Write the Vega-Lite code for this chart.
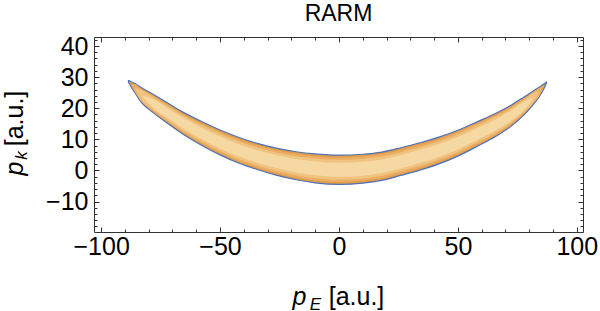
{
  "$schema": "https://vega.github.io/schema/vega-lite/v6.json",
  "width": 489,
  "height": 195,
  "autosize": "none",
  "padding": {"left": 94, "top": 37, "right": 17, "bottom": 79},
  "background": "white",
  "title": {"text": "RARM", "font": "Liberation Sans", "fontSize": 23, "fontWeight": "normal", "color": "#000", "anchor": "middle", "offset": 8},
  "config": {
    "view": {"stroke": null},
    "axis": {"grid": false, "labelFont": "Liberation Sans", "labelFontSize": 25, "labelColor": "#000", "tickColor": "#333", "domainColor": "#333", "titleFont": "Liberation Sans", "titleFontSize": 25, "titleFontWeight": "normal", "titleColor": "#000"}
  },
  "datasets": {
    "l1": [
      {"x": -88.5, "hi": 28.9, "lo": 28.3}, {"x": -87.5, "hi": 28.6, "lo": 27.0}, {"x": -86, "hi": 28.0, "lo": 25.2}, {"x": -83, "hi": 26.6, "lo": 21.8},
      {"x": -78, "hi": 24.4, "lo": 18.5}, {"x": -72, "hi": 21.7, "lo": 15.1}, {"x": -66, "hi": 18.9, "lo": 11.9}, {"x": -58, "hi": 15.8, "lo": 8.2},
      {"x": -50, "hi": 13.0, "lo": 5.0}, {"x": -42, "hi": 10.6, "lo": 2.3}, {"x": -34, "hi": 8.6, "lo": 0.2}, {"x": -26, "hi": 7.1, "lo": -1.6},
      {"x": -18, "hi": 6.0, "lo": -3.0}, {"x": -10, "hi": 5.3, "lo": -4.0}, {"x": 0, "hi": 4.9, "lo": -4.5}, {"x": 10, "hi": 5.2, "lo": -4.1},
      {"x": 18, "hi": 5.9, "lo": -3.2}, {"x": 26, "hi": 7.3, "lo": -1.6}, {"x": 34, "hi": 8.9, "lo": 0.1}, {"x": 42, "hi": 10.7, "lo": 2.1},
      {"x": 50, "hi": 12.9, "lo": 4.6}, {"x": 58, "hi": 15.6, "lo": 7.7}, {"x": 66, "hi": 18.4, "lo": 11.0}, {"x": 72, "hi": 20.8, "lo": 14.0},
      {"x": 78, "hi": 23.7, "lo": 18.0}, {"x": 82, "hi": 25.7, "lo": 21.5}, {"x": 84.5, "hi": 26.9, "lo": 24.0}, {"x": 86.3, "hi": 27.9, "lo": 26.5},
      {"x": 87.2, "hi": 28.4, "lo": 28.0}
    ],
    "l2": [
      {"x": -87.5, "hi": 27.8, "lo": 27.8}, {"x": -86, "hi": 27.78, "lo": 25.42}, {"x": -83, "hi": 26.22, "lo": 22.18}, {"x": -78, "hi": 23.93, "lo": 18.97},
      {"x": -72, "hi": 21.17, "lo": 15.63}, {"x": -66, "hi": 18.34, "lo": 12.46}, {"x": -58, "hi": 15.19, "lo": 8.81}, {"x": -50, "hi": 12.36, "lo": 5.64},
      {"x": -42, "hi": 9.94, "lo": 2.96}, {"x": -34, "hi": 7.93, "lo": 0.87}, {"x": -26, "hi": 6.4, "lo": -0.9}, {"x": -18, "hi": 5.28, "lo": -2.28},
      {"x": -10, "hi": 4.56, "lo": -3.26}, {"x": 0, "hi": 4.15, "lo": -3.75}, {"x": 10, "hi": 4.46, "lo": -3.36}, {"x": 18, "hi": 5.17, "lo": -2.47},
      {"x": 26, "hi": 6.59, "lo": -0.89}, {"x": 34, "hi": 8.2, "lo": 0.8}, {"x": 42, "hi": 10.01, "lo": 2.79}, {"x": 50, "hi": 12.24, "lo": 5.26},
      {"x": 58, "hi": 14.97, "lo": 8.33}, {"x": 66, "hi": 17.81, "lo": 11.59}, {"x": 72, "hi": 20.26, "lo": 14.54}, {"x": 78, "hi": 23.24, "lo": 18.46},
      {"x": 82, "hi": 25.36, "lo": 21.84}, {"x": 84.5, "hi": 26.67, "lo": 24.23}, {"x": 86.3, "hi": 27.2, "lo": 27.2}
    ],
    "l3": [
      {"x": -86, "hi": 26.6, "lo": 26.6}, {"x": -83, "hi": 25.83, "lo": 22.57}, {"x": -78, "hi": 23.46, "lo": 19.44}, {"x": -72, "hi": 20.64, "lo": 16.16},
      {"x": -66, "hi": 17.78, "lo": 13.02}, {"x": -58, "hi": 14.58, "lo": 9.42}, {"x": -50, "hi": 11.72, "lo": 6.28}, {"x": -42, "hi": 9.27, "lo": 3.63},
      {"x": -34, "hi": 7.26, "lo": 1.54}, {"x": -26, "hi": 5.71, "lo": -0.21}, {"x": -18, "hi": 4.56, "lo": -1.56}, {"x": -10, "hi": 3.81, "lo": -2.51},
      {"x": 0, "hi": 3.4, "lo": -3.0}, {"x": 10, "hi": 3.71, "lo": -2.61}, {"x": 18, "hi": 4.44, "lo": -1.74}, {"x": 26, "hi": 5.88, "lo": -0.18},
      {"x": 34, "hi": 7.49, "lo": 1.51}, {"x": 42, "hi": 9.32, "lo": 3.48}, {"x": 50, "hi": 11.57, "lo": 5.93}, {"x": 58, "hi": 14.34, "lo": 8.96},
      {"x": 66, "hi": 17.22, "lo": 12.18}, {"x": 72, "hi": 19.71, "lo": 15.09}, {"x": 78, "hi": 22.79, "lo": 18.91}, {"x": 82, "hi": 25.03, "lo": 22.17},
      {"x": 84.5, "hi": 25.45, "lo": 25.45}
    ],
    "l4": [
      {"x": -83, "hi": 24.2, "lo": 24.2}, {"x": -78, "hi": 22.87, "lo": 20.03}, {"x": -72, "hi": 19.98, "lo": 16.82}, {"x": -66, "hi": 17.08, "lo": 13.72},
      {"x": -58, "hi": 13.82, "lo": 10.18}, {"x": -50, "hi": 10.92, "lo": 7.08}, {"x": -42, "hi": 8.44, "lo": 4.46}, {"x": -34, "hi": 6.42, "lo": 2.38},
      {"x": -26, "hi": 4.84, "lo": 0.66}, {"x": -18, "hi": 3.66, "lo": -0.66}, {"x": -10, "hi": 2.88, "lo": -1.58}, {"x": 0, "hi": 2.46, "lo": -2.06},
      {"x": 10, "hi": 2.78, "lo": -1.68}, {"x": 18, "hi": 3.53, "lo": -0.83}, {"x": 26, "hi": 4.99, "lo": 0.71}, {"x": 34, "hi": 6.61, "lo": 2.39},
      {"x": 42, "hi": 8.46, "lo": 4.34}, {"x": 50, "hi": 10.74, "lo": 6.76}, {"x": 58, "hi": 13.55, "lo": 9.75}, {"x": 66, "hi": 16.48, "lo": 12.92},
      {"x": 72, "hi": 19.03, "lo": 15.77}, {"x": 78, "hi": 22.22, "lo": 19.48}, {"x": 82, "hi": 23.6, "lo": 23.6}
    ]
  },
  "resolve": {"axis": {"x": "independent", "y": "independent"}},
  "layer": [
    {
      "data": {"name": "l1"},
      "mark": {"type": "area", "interpolate": "monotone", "fill": "#e29c4e", "stroke": "#4e72b6", "strokeWidth": 1.2},
      "encoding": {
        "x": {"field": "x", "type": "quantitative", "scale": {"domain": [-103, 102.6], "nice": false, "zero": false},
              "axis": {"orient": "bottom", "values": [-100, -50, 0, 50, 100], "tickSize": -5, "labelPadding": 7, "domain": true,
                       "title": "[a.u.]", "titleX": 262, "titleY": 72, "titleBaseline": "alphabetic", "titleAlign": "center"}},
        "y": {"field": "hi", "type": "quantitative", "scale": {"domain": [-19.8, 42.9], "nice": false, "zero": false},
              "axis": {"orient": "left", "values": [-10, 0, 10, 20, 30, 40], "tickSize": -5, "labelPadding": 11, "domain": true,
                       "title": "[a.u.]", "titleX": -72, "titleY": 81, "titleAngle": -90, "titleBaseline": "alphabetic", "titleAlign": "center"}},
        "y2": {"field": "lo"}
      }
    },
    {
      "data": {"name": "l2"},
      "mark": {"type": "area", "interpolate": "monotone", "fill": "#eaae62"},
      "encoding": {
        "x": {"field": "x", "type": "quantitative", "scale": {"domain": [-103, 102.6], "nice": false, "zero": false},
              "axis": {"orient": "top", "values": [-100, -50, 0, 50, 100], "tickSize": -5, "labels": false, "domain": true, "title": null}},
        "y": {"field": "hi", "type": "quantitative", "scale": {"domain": [-19.8, 42.9], "nice": false, "zero": false},
              "axis": {"orient": "right", "values": [-10, 0, 10, 20, 30, 40], "tickSize": -5, "labels": false, "domain": true, "title": null}},
        "y2": {"field": "lo"}
      }
    },
    {
      "data": {"name": "l3"},
      "mark": {"type": "area", "interpolate": "monotone", "fill": "#f0c380"},
      "encoding": {
        "x": {"field": "x", "type": "quantitative", "scale": {"domain": [-103, 102.6], "nice": false, "zero": false},
              "axis": {"orient": "bottom", "values": [-100, -90, -80, -70, -60, -50, -40, -30, -20, -10, 0, 10, 20, 30, 40, 50, 60, 70, 80, 90, 100], "tickSize": -3, "labels": false, "domain": false,
                       "title": "p", "titleFontStyle": "italic", "titleX": 205, "titleY": 72, "titleBaseline": "alphabetic", "titleAlign": "center"}},
        "y": {"field": "hi", "type": "quantitative", "scale": {"domain": [-19.8, 42.9], "nice": false, "zero": false},
              "axis": {"orient": "left", "values": [-18, -16, -14, -12, -10, -8, -6, -4, -2, 0, 2, 4, 6, 8, 10, 12, 14, 16, 18, 20, 22, 24, 26, 28, 30, 32, 34, 36, 38, 40, 42], "tickSize": -3, "labels": false, "domain": false,
                       "title": "p", "titleFontStyle": "italic", "titleX": -72, "titleY": 131, "titleAngle": -90, "titleBaseline": "alphabetic", "titleAlign": "center"}},
        "y2": {"field": "lo"}
      }
    },
    {
      "data": {"name": "l4"},
      "mark": {"type": "area", "interpolate": "monotone", "fill": "#f6d8a2"},
      "encoding": {
        "x": {"field": "x", "type": "quantitative", "scale": {"domain": [-103, 102.6], "nice": false, "zero": false},
              "axis": {"orient": "top", "values": [-100, -90, -80, -70, -60, -50, -40, -30, -20, -10, 0, 10, 20, 30, 40, 50, 60, 70, 80, 90, 100], "tickSize": -3, "labels": false, "domain": false,
                       "title": "E", "titleFontStyle": "italic", "titleFontSize": 17, "titleX": 221, "titleY": 272, "titleBaseline": "alphabetic", "titleAlign": "center"}},
        "y": {"field": "hi", "type": "quantitative", "scale": {"domain": [-19.8, 42.9], "nice": false, "zero": false},
              "axis": {"orient": "right", "values": [-18, -16, -14, -12, -10, -8, -6, -4, -2, 0, 2, 4, 6, 8, 10, 12, 14, 16, 18, 20, 22, 24, 26, 28, 30, 32, 34, 36, 38, 40, 42], "tickSize": -3, "labels": false, "domain": false,
                       "title": "k", "titleFontStyle": "italic", "titleFontSize": 17, "titleX": -557, "titleY": 118, "titleAngle": -90, "titleBaseline": "alphabetic", "titleAlign": "center"}},
        "y2": {"field": "lo"}
      }
    }
  ]
}
